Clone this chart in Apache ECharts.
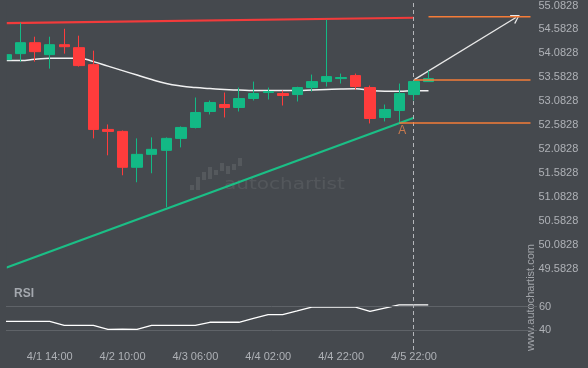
<!DOCTYPE html>
<html>
<head>
<meta charset="utf-8">
<script src="https://cdn.jsdelivr.net/npm/echarts@6/dist/echarts.min.js"></script>
<style>
html,body{margin:0;padding:0;background:#45494e;}
#c{width:588px;height:368px;}
</style>
</head>
<body>
<div id="c"></div>
<script>
// ---- data ----
const slotCount = 37; // candle slots incl. projection area
const tickIndex = [3, 8, 13, 18, 23, 28];
const tickText = ['4/1 14:00', '4/2 10:00', '4/3 06:00', '4/4 02:00', '4/4 22:00', '4/5 22:00'];
const priceTicks = [49.5828, 50.0828, 50.5828, 51.0828, 51.5828, 52.0828, 52.5828, 53.0828, 53.5828, 54.0828, 54.5828, 55.0828];

const opens  = [53.952,54.077,54.306,54.056,54.264,54.202,53.847,52.493,52.452,51.702,51.972,52.056,52.306,52.535,52.868,53.014,52.952,53.139,53.264,53.243,53.222,53.368,53.493,53.556,53.618,53.368,52.743,52.889,53.222,53.493];
const closes = [54.056,54.306,54.118,54.264,54.222,53.827,52.493,52.452,51.702,51.972,52.077,52.306,52.535,52.847,53.056,52.952,53.139,53.243,53.285,53.202,53.368,53.493,53.597,53.577,53.389,52.722,52.910,53.243,53.493,53.556];
const lows   = [53.930,53.910,53.910,53.764,54.077,53.806,52.306,51.952,51.535,51.389,51.577,50.868,52.118,52.514,52.806,52.743,52.868,53.097,53.118,52.993,53.077,53.285,53.389,53.452,53.327,52.618,52.660,52.639,53.097,53.493];
const highs  = [54.080,54.722,54.431,54.431,54.597,54.452,54.139,52.597,52.472,52.306,52.327,52.327,52.556,53.160,53.097,53.264,53.368,53.493,53.368,53.306,53.385,53.639,54.785,53.660,53.660,53.410,53.014,53.452,53.514,53.722];
const maValues = [53.931,53.931,53.960,53.983,53.983,53.983,53.910,53.816,53.722,53.629,53.535,53.452,53.400,53.368,53.347,53.327,53.316,53.306,53.306,53.306,53.306,53.316,53.327,53.337,53.341,53.306,53.291,53.291,53.299,53.299];
const rsiValues = [47.6,47.6,47.6,47.6,44.2,44.2,44.2,40.8,41.0,40.8,44.2,44.2,44.2,44.2,46.8,46.8,46.8,50.0,53.2,53.2,56.4,59.7,59.7,59.7,59.7,56.0,58.8,61.6,61.6,61.6];
const rsiLevels = [60, 40];

const resistanceLine = [[0, 54.716], [28, 54.827]];
const supportLine = [[0, 49.602], [28, 52.737]];
const targetLevel = [[29, 54.847], [36, 54.847]];
const entryLevel = [[28, 53.528], [36, 53.528]];
const pointALevel = [[27, 52.625], [36, 52.625]];
const forecastArrow = [[28, 53.528], [34.74, 54.833]];
const pointA = [[27, 52.625]];
const currentIndex = 28;

// ---- build ----
const categories = Array.from({length: slotCount}, (_, i) => String(i));
const candleData = opens.map((o, i) => [o, closes[i], lows[i], highs[i]]);
const maData = maValues.map((v, i) => [i, v]);
const rsiData = rsiValues.map((v, i) => [i, v]);

const BG = '#45494e';
const GREEN = '#13b985', RED = '#ff3c3c', ORANGE = '#f57c38', LABEL = '#aeb1b6';
const chevron = 'path://M5,0 L10,8.2 L8.9,9 L5,2.2 L1.1,9 L0,8.2 Z';

const chart = echarts.init(document.getElementById('c'), null, {renderer: 'canvas'});
chart.setOption({
  backgroundColor: BG,
  animation: false,
  textStyle: {fontFamily: 'Liberation Sans, Arial, sans-serif'},
  title: {text: 'RSI', left: 9, top: 283, textStyle: {color: '#a4a8ae', fontSize: 12, fontWeight: 'bold'}},
  grid: [
    {left: 6, right: 57.5, top: 4.7, height: 264, containLabel: false},
    {left: 6, right: 51, top: 0, height: 350, containLabel: false}
  ],
  xAxis: [
    {type: 'category', gridIndex: 0, data: categories, boundaryGap: false,
     axisLine: {show: false}, axisTick: {show: false}, splitLine: {show: false},
     axisLabel: {interval: 0, margin: 83, color: LABEL, fontSize: 11,
       formatter: (v, idx) => { const k = tickIndex.indexOf(idx); return k >= 0 ? tickText[k] : ''; }}},
    {type: 'value', gridIndex: 1, min: 0, max: 36.47, show: false}
  ],
  yAxis: [
    {type: 'value', gridIndex: 0, position: 'right', min: 49.5828, max: 55.0828,
     axisLine: {show: false}, axisTick: {show: false}, splitLine: {show: false},
     axisLabel: {customValues: priceTicks, margin: 8, color: LABEL, fontSize: 11,
       formatter: v => v.toFixed(4)}},
    {type: 'value', gridIndex: 1, min: 23.3, max: 319.9, show: false}
  ],
  graphic: [
    {type: 'group', silent: true, z: 0, children: [
      {type: 'rect', shape: {x: 190, y: 185, width: 4, height: 5}, style: {fill: 'rgba(255,255,255,0.09)'}},
      {type: 'rect', shape: {x: 196, y: 177, width: 4, height: 13}, style: {fill: 'rgba(255,255,255,0.09)'}},
      {type: 'rect', shape: {x: 202, y: 172, width: 4, height: 8}, style: {fill: 'rgba(255,255,255,0.09)'}},
      {type: 'rect', shape: {x: 208, y: 167, width: 4, height: 12}, style: {fill: 'rgba(255,255,255,0.09)'}},
      {type: 'rect', shape: {x: 214, y: 170, width: 4, height: 5}, style: {fill: 'rgba(255,255,255,0.09)'}},
      {type: 'rect', shape: {x: 220, y: 163, width: 4, height: 8}, style: {fill: 'rgba(255,255,255,0.09)'}},
      {type: 'rect', shape: {x: 226, y: 166, width: 4, height: 8}, style: {fill: 'rgba(255,255,255,0.09)'}},
      {type: 'rect', shape: {x: 232, y: 164, width: 4, height: 6}, style: {fill: 'rgba(255,255,255,0.09)'}},
      {type: 'rect', shape: {x: 238, y: 158, width: 4, height: 8}, style: {fill: 'rgba(255,255,255,0.09)'}},
      {type: 'text', x: 224, y: 185, scaleX: 1.25, scaleY: 1,
       style: {x: 0, y: 0, text: 'autochartist', fill: 'rgba(255,255,255,0.08)',
        font: '16px "DejaVu Sans"', textVerticalAlign: 'middle'}}
    ]},
    // mask: plot area starts at x = 7, so the first candle is cut at the left edge
    {type: 'rect', silent: true, z: 100, shape: {x: 0, y: 0, width: 6.8, height: 272}, style: {fill: BG}},
    {type: 'text', silent: true, x: 531, y: 297.5, rotation: Math.PI / 2,
     style: {text: 'www.autochartist.com', fill: '#a2a5aa', font: '11px "Liberation Sans", Arial',
       align: 'center', verticalAlign: 'middle'}}
  ],
  series: [
    {type: 'line', xAxisIndex: 0, yAxisIndex: 0, data: supportLine, symbol: 'none',
     lineStyle: {color: '#1bbf86', width: 2.2}, z: 3, silent: true},
    {type: 'line', xAxisIndex: 0, yAxisIndex: 0, data: resistanceLine, symbol: 'none',
     lineStyle: {color: '#f23b3b', width: 2.2}, z: 3, silent: true},
    {type: 'line', xAxisIndex: 0, yAxisIndex: 0, data: maData, symbol: 'none', smooth: true,
     lineStyle: {color: 'rgba(255,255,255,0.92)', width: 1.5}, z: 4, silent: true},
    {type: 'candlestick', xAxisIndex: 0, yAxisIndex: 0, data: candleData, barWidth: 11, z: 5, clip: true,
     itemStyle: {color: GREEN, color0: RED, borderColor: GREEN, borderColor0: RED, borderWidth: 1}},
    {type: 'line', xAxisIndex: 0, yAxisIndex: 0, data: targetLevel, symbol: 'none',
     lineStyle: {color: ORANGE, width: 1.5}, z: 6, silent: true},
    {type: 'line', xAxisIndex: 0, yAxisIndex: 0, data: entryLevel, symbol: 'none',
     lineStyle: {color: ORANGE, width: 1.5}, z: 6, silent: true},
    {type: 'line', xAxisIndex: 0, yAxisIndex: 0, data: pointALevel, symbol: 'none',
     lineStyle: {color: ORANGE, width: 1.5}, z: 6, silent: true},
    {type: 'scatter', xAxisIndex: 0, yAxisIndex: 0, data: pointA, symbolSize: 2,
     itemStyle: {color: 'rgba(0,0,0,0)'}, z: 7, silent: true,
     label: {show: true, formatter: 'A', position: 'bottom', distance: 1, offset: [3, 0],
       color: '#e8864f', fontSize: 12}},
    {type: 'line', xAxisIndex: 0, yAxisIndex: 0, data: [], z: 8, silent: true,
     markLine: {silent: true, symbol: ['none', chevron], symbolSize: [10, 9],
       lineStyle: {color: '#e8e8e8', width: 1.3, type: 'solid'}, label: {show: false},
       data: [[{coord: forecastArrow[0]}, {coord: forecastArrow[1]}]]}},
    {type: 'line', xAxisIndex: 1, yAxisIndex: 1, data: rsiData, symbol: 'none', z: 4, silent: true,
     lineStyle: {color: '#ffffff', width: 1.3},
     markLine: {silent: true, symbol: 'none',
       data: [
         ...rsiLevels.map(v => ({yAxis: v, lineStyle: {color: '#5f6368', width: 1, type: 'solid'},
           label: {show: true, position: 'end', distance: 2, formatter: String(v), color: LABEL, fontSize: 11}})),
         {xAxis: currentIndex, lineStyle: {color: '#b4b6ba', width: 1, type: [4, 3]}, label: {show: false}}
       ]}}
  ]
});
</script>
</body>
</html>
